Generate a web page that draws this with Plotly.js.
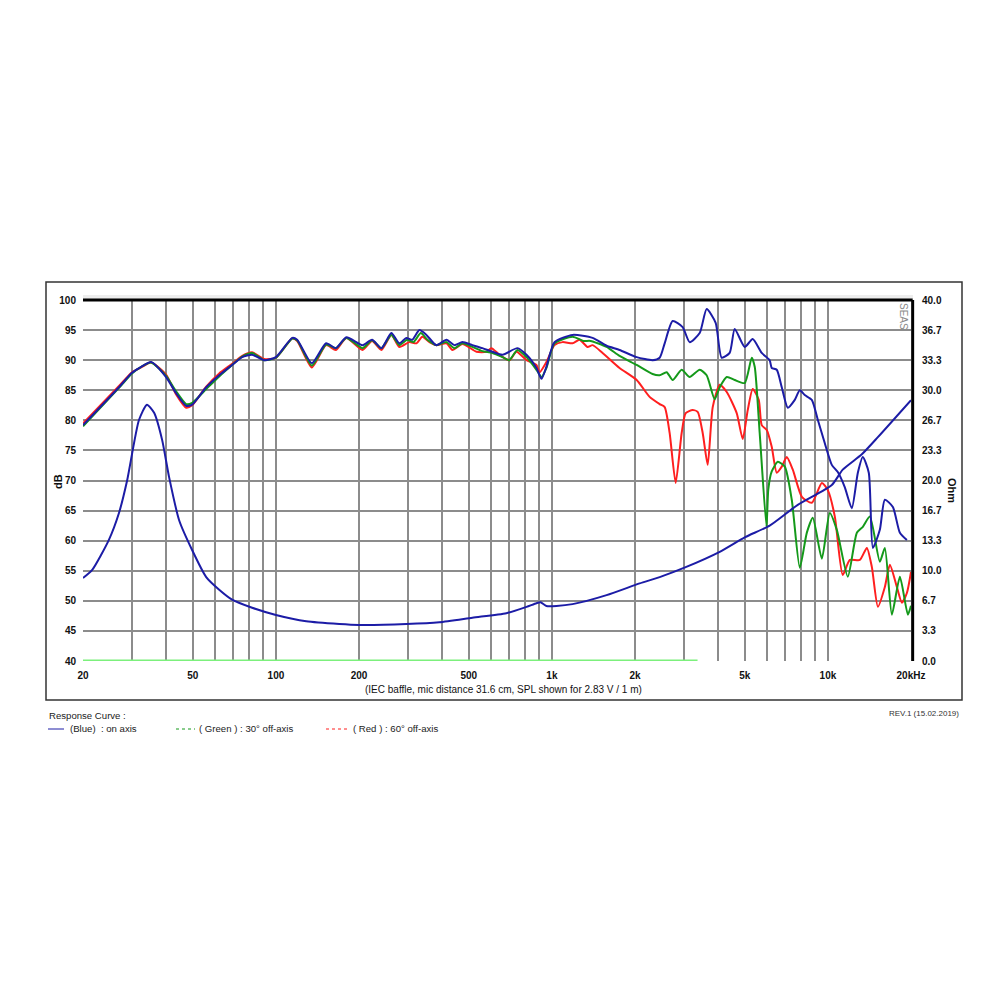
<!DOCTYPE html>
<html>
<head>
<meta charset="utf-8">
<script src="https://cdn.plot.ly/plotly-3.0.1.min.js"></script>
<style>html,body{margin:0;padding:0;background:#fff;}#chart{width:1000px;height:1000px;}</style>
</head>
<body>
<div id="chart"></div>
<script>
// ---------- DATA ----------
const blueFreq = [20,27,30.1,32.5,35.3,40,43.5,47.3,49.7,55.9,62.3,69.4,75.5,82,90.7,100,114.6,119.4,135,152,165,180,206,223,241,262,280,297,312,331,351,381,415,443,474,515,560,609,662,750,809,879,917,955,1022,1188,1404,1578,1758,2028,2316,2457,2562,2738,2976,3155,3431,3636,3920,4122,4406,4596,4994,5340,5756,6152,6258,6526,6804,7154,7584,7908,8242,8742,9190,9744,10330,10860,11508,12208,12836,13382,14062,14550,15420,16080,17194,18230,19324,20000];
const blueSPL  = [79.2,85.5,87.9,88.9,89.7,87.2,84.5,82.4,82.6,85.5,87.5,89.2,90.5,90.9,90.0,90.5,93.7,93.4,89.5,92.8,92.0,93.8,92.5,93.4,92.0,94.5,92.8,93.7,93.4,95.0,94.2,92.5,93.4,92.5,93.0,92.5,92.0,91.4,90.9,92.0,90.9,88.7,86.9,88.9,93.0,94.2,93.7,92.4,91.7,90.5,90.0,90.4,92.8,96.5,95.5,93.0,94.5,98.5,96.2,90.4,91.2,95.2,92.2,93.5,91.2,90.0,88.7,88.4,85.5,82.1,83.4,85.0,84.2,83.4,80.1,76.2,72.6,71.4,68.9,65.4,71.3,73.9,71.3,58.8,61.8,66.8,65.6,61.3,60.1];

const greenFreq = [20,27,30.1,32.5,35.3,40,43.5,47.3,49.7,55.9,62.3,69.4,75.5,82,90.7,100,114.6,119.4,135,152,165,180,206,223,241,262,280,299,315,335,354,381,415,443,474,515,560,609,662,700,750,809,879,917,955,1022,1188,1300,1380,1578,1758,2028,2316,2457,2604,2738,2952,3155,3431,3636,3888,4055,4300,4596,4994,5296,5430,5660,5990,6080,6258,6582,6978,7396,7908,8384,8816,9506,10158,10770,11806,12732,13382,14188,15420,16080,17050,18230,19486,20000];
const greenSPL  = [79.0,85.4,87.8,88.9,89.6,87.4,84.8,82.7,82.9,85.2,87.3,89.2,90.6,91.2,90.0,90.4,93.6,93.3,89.1,92.6,92.0,93.7,92.0,93.3,92.0,94.2,92.5,93.4,93.0,94.5,93.4,92.5,93.0,92.0,92.8,92.2,91.5,91.2,90.5,90.0,91.7,90.5,88.4,87.2,88.7,92.8,93.9,93.2,93.2,92.2,90.7,89.2,87.7,87.5,88.0,86.7,88.4,87.2,88.4,87.5,83.5,85.5,87.2,86.7,86.2,90.4,88.9,77.9,62.3,68.5,71.5,73.1,72.3,66.8,55.5,61.3,63.8,57.0,64.6,61.8,54.0,61.3,62.3,64.0,56.5,58.8,47.7,54.0,47.7,49.2];

const redFreq = [20,27,30.1,32.5,35.3,40,43.5,47.3,49.7,55.9,62.3,69.4,75.5,82,90.7,100,114.6,119.4,135,152,165,180,206,223,241,262,280,304,323,339,360,381,415,436,474,533,579,604,645,702,744,809,879,902,955,1022,1093,1188,1259,1346,1404,1526,1758,2028,2259,2457,2562,2670,2808,2952,3053,3236,3373,3518,3668,3825,4055,4300,4672,4913,5123,5340,5615,5756,6002,6258,6526,6804,7094,7460,8044,8742,9506,9990,10594,11316,12006,13054,13838,14430,15170,16080,16766,17778,18538,19324,20000];
const redSPL  = [79.5,85.7,88.0,88.8,89.6,87.6,84.3,82.1,82.5,85.6,87.8,89.4,90.7,91.3,90.2,90.4,93.6,93.2,88.8,92.5,91.7,93.7,91.7,93.2,91.7,94.2,92.2,93.0,92.8,93.9,93.0,92.5,92.8,91.7,92.7,91.4,91.4,92.0,90.9,90.0,91.4,90.0,89.2,88.0,89.7,92.5,93.0,92.8,93.4,92.2,92.5,91.2,88.7,86.7,83.9,82.7,82.2,77.9,69.6,77.9,81.2,81.7,81.4,77.9,72.6,82.2,85.9,84.7,81.2,76.9,81.7,85.2,83.4,79.2,78.4,75.6,71.3,72.3,73.9,71.8,67.3,66.3,69.6,68.4,64.0,54.3,56.8,56.8,58.8,55.6,49.0,52.3,56.0,52.3,49.7,51.3,54.8];

const impFreq = [20,21.6,24.8,27,28.9,31.9,34.1,36.2,38.7,41,44.6,49.7,55.9,62.3,69.4,82,100,128.8,169.7,200,297,391,515,684,809,879,909,955,1039,1188,1578,2079,2457,3053,4055,4994,6152,7776,10330,11316,13270,15170,20000];
const impOhm  = [9.2,10.1,13.4,16.4,20.0,26.7,28.4,27.5,24.5,20.4,15.6,12.3,9.3,7.9,6.8,5.9,5.1,4.4,4.1,4.0,4.1,4.3,4.8,5.3,6.0,6.4,6.5,6.1,6.1,6.3,7.3,8.6,9.3,10.4,12.1,13.7,15.0,17.3,19.5,21.2,22.9,24.8,28.9];

const baseFreq = [20,3370];
const baseDB   = [40,40];

const gridFreq = [20,30,40,50,60,70,80,90,100,200,300,400,500,600,700,800,900,1000,2000,3000,4000,5000,6000,7000,8000,9000,10000,20000];
const labelFreq = {20:'20',50:'50',100:'100',200:'200',500:'500',1000:'1k',2000:'2k',5000:'5k',10000:'10k',20000:'20kHz'};
const dbTicks = [40,45,50,55,60,65,70,75,80,85,90,95,100];
const ohmTickText = ['0.0','3.3','6.7','10.0','13.3','16.7','20.0','23.3','26.7','30.0','33.3','36.7','40.0'];

// ---------- LAYOUT HELPERS ----------
const L=83, R=911, T=300, B=661;
const px = v => (v-L)/(R-L);
const py = v => (B-v)/(B-T);
const FONT = 'Liberation Sans, Arial, sans-serif';
const BLUE='#1c1ca6', GREEN='#14991a', RED='#ff1f1f';

const traces = [
  {x: baseFreq, y: baseDB, mode:'lines', line:{color:'#7cf07c', width:3}},
  {x: redFreq, y: redSPL, mode:'lines', line:{color:RED, width:2, shape:'spline', smoothing:0.6}},
  {x: greenFreq, y: greenSPL, mode:'lines', line:{color:GREEN, width:2, shape:'spline', smoothing:0.6}},
  {x: blueFreq, y: blueSPL, mode:'lines', line:{color:BLUE, width:2, shape:'spline', smoothing:0.6}},
  {x: impFreq, y: impOhm, yaxis:'y2', mode:'lines', line:{color:BLUE, width:2, shape:'spline', smoothing:0.6}}
];

const tickFont = {family:FONT, size:10, color:'#111', weight:'bold'};
function ann(text, x, y, opts){
  return Object.assign({text:text, xref:'paper', yref:'paper', x:px(x), y:py(y),
    xanchor:'center', yanchor:'middle', showarrow:false,
    font:{family:FONT, size:9.6, color:'#222'}}, opts||{});
}

const layout = {
  width:1000, height:1000, autosize:false,
  margin:{l:L, r:1000-R, t:T, b:1000-B, pad:0},
  paper_bgcolor:'#fff', plot_bgcolor:'#fff',
  showlegend:false, hovermode:false,
  xaxis:{type:'log', range:[Math.log10(20), Math.log10(20000)],
    tickmode:'array', tickvals:gridFreq, ticktext:gridFreq.map(f=>labelFreq[f]||''),
    showgrid:true, gridcolor:'#8c8c8c', gridwidth:2, zeroline:false, showline:false,
    ticks:'', tickfont:tickFont, ticklabelstandoff:7, fixedrange:true},
  yaxis:{range:[40,100], tickmode:'array', tickvals:dbTicks, ticktext:dbTicks.map(String),
    showgrid:true, gridcolor:'#8c8c8c', gridwidth:2, zeroline:false, showline:false,
    ticks:'', tickfont:tickFont, ticklabelstandoff:6, fixedrange:true},
  yaxis2:{range:[0,40], overlaying:'y', side:'right', tickmode:'array',
    tickvals:ohmTickText.map((t,i)=>i*40/12), ticktext:ohmTickText,
    showgrid:false, zeroline:false, showline:false, ticks:'', tickfont:tickFont, ticklabelstandoff:10, fixedrange:true},
  shapes:[
    {type:'rect', xref:'paper', yref:'paper', x0:px(46), x1:px(962), y0:py(700), y1:py(282), line:{color:'#333', width:1.5}, fillcolor:'rgba(0,0,0,0)', layer:'below'},
    {type:'rect', xref:'paper', yref:'paper', x0:px(83), x1:px(913), y0:py(300), y1:py(295), line:{width:0}, fillcolor:'#ededed', layer:'below'},
    {type:'line', xref:'paper', yref:'paper', x0:0, x1:1.002, y0:1, y1:1, line:{color:'#000', width:3}},
    {type:'line', xref:'paper', yref:'paper', x0:1.002, x1:1.002, y0:0, y1:1, line:{color:'#000', width:3}},
    {type:'line', xref:'paper', yref:'paper', x0:px(48), x1:px(64), y0:py(729), y1:py(729), line:{color:BLUE, width:1}},
    {type:'line', xref:'paper', yref:'paper', x0:px(176), x1:px(195), y0:py(729), y1:py(729), line:{color:GREEN, width:1, dash:'dot'}},
    {type:'line', xref:'paper', yref:'paper', x0:px(326), x1:px(350), y0:py(729), y1:py(729), line:{color:RED, width:1, dash:'dot'}}
  ],
  annotations:[
    ann('dB', 58, 482, {textangle:-90, font:{family:FONT, size:11, color:'#111', weight:'bold'}}),
    ann('Ohm', 952, 490, {textangle:90, font:{family:FONT, size:11, color:'#111', weight:'bold'}}),
    ann('SEAS', 904, 316, {textangle:90, font:{family:FONT, size:10, color:'#8a8a8a'}}),
    ann('(IEC baffle, mic distance 31.6 cm, SPL shown for 2.83 V / 1 m)', 503, 689, {font:{family:FONT, size:10, color:'#111'}}),
    ann('Response Curve :', 47, 715, {xanchor:'left'}),
    ann('(Blue)  : on axis', 68, 728, {xanchor:'left'}),
    ann('( Green ) : 30° off-axis', 197, 728, {xanchor:'left'}),
    ann('( Red ) : 60° off-axis', 351, 728, {xanchor:'left'}),
    ann('REV.1 (15.02.2019)', 961, 713, {xanchor:'right', font:{family:FONT, size:8, color:'#333'}})
  ]
};

Plotly.newPlot('chart', traces, layout, {staticPlot:true, displayModeBar:false});
</script>
</body>
</html>
